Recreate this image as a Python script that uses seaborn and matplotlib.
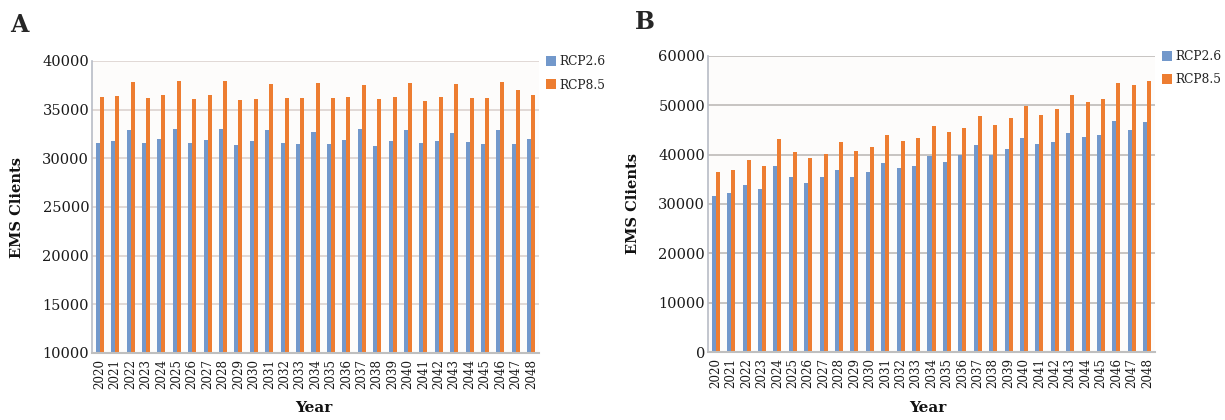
import matplotlib
matplotlib.use("Agg")
import matplotlib.pyplot as plt
import seaborn as sns
import pandas as pd

years = [str(y) for y in range(2020, 2049)]

a_rcp26 = [31570, 31780, 32930, 31600, 31940, 33060, 31530, 31880, 32970, 31330,
           31810, 32860, 31570, 31500, 32750, 31430, 31870, 33020, 31220, 31730,
           32920, 31530, 31730, 32650, 31630, 31490, 32920, 31430, 31940]
a_rcp85 = [36270, 36370, 37800, 36230, 36470, 37940, 36100, 36470, 37900, 35970,
           36100, 37650, 36200, 36150, 37790, 36150, 36330, 37580, 36080, 36330,
           37790, 35920, 36260, 37650, 36150, 36150, 37860, 37070, 36490]

b_rcp26 = [31620, 32170, 33850, 32980, 37770, 35400, 34320, 35540, 36830, 35540,
           36550, 38380, 37360, 37770, 39800, 38580, 39940, 41970, 39940, 41220,
           43450, 42170, 42510, 44330, 43650, 44000, 46770, 45090, 46650]
b_rcp85 = [36430, 36900, 38920, 37770, 43250, 40550, 39330, 40200, 42510, 40810,
           41560, 43930, 42780, 43420, 45900, 44540, 45350, 47790, 46090, 47500,
           49920, 48110, 49220, 52050, 50770, 51320, 54500, 54090, 54900]

series_names = ["RCP2.6", "RCP8.5"]
panel_labels = ["A", "B"]
y_label = "EMS Clients"
x_label = "Year"

colors = {"RCP2.6": "#7298CB", "RCP8.5": "#ED7D31"}

sns.set_theme(style="white")
plt.rcParams["font.family"] = ["DejaVu Serif"]

fig = plt.figure(figsize=(12.25, 4.2), dpi=100)
axA = fig.add_axes([92 / 1225, (420 - 353) / 420, 447 / 1225, 292 / 420])
axB = fig.add_axes([708 / 1225, (420 - 352) / 420, 447 / 1225, 296 / 420])


def make_df(v26, v85):
    return pd.DataFrame({
        "Year": years * 2,
        "Value": v26 + v85,
        "Scenario": [series_names[0]] * len(years) + [series_names[1]] * len(years),
    })


panels = [
    (axA, make_df(a_rcp26, a_rcp85), (10000, 40000), list(range(10000, 40001, 5000)), "#DED6D3"),
    (axB, make_df(b_rcp26, b_rcp85), (0, 60000), list(range(0, 60001, 10000)), "#C3C0BD"),
]

for ax, df, ylim, yticks, gcol in panels:
    sns.barplot(data=df, x="Year", y="Value", hue="Scenario", palette=colors,
                saturation=1, width=0.52, gap=0, ax=ax, errorbar=None, linewidth=0)
    ax.set_facecolor("#FDFCFB")
    ax.set_ylim(*ylim)
    ax.set_yticks(yticks)
    ax.set_xlim(-0.5, len(years) - 0.5)
    ax.yaxis.grid(True, color=gcol, linewidth=1.3, linestyle="-")
    ax.set_axisbelow(True)
    for s in ["top", "right"]:
        ax.spines[s].set_visible(False)
    ax.spines["left"].set_color("#B8BCC6")
    ax.spines["bottom"].set_color("#BFBFBF")
    ax.spines["left"].set_linewidth(1.2)
    ax.spines["bottom"].set_linewidth(1.5)
    ax.tick_params(axis="y", length=0, pad=2, labelsize=10.5, colors="#1a1a1a")
    ax.tick_params(axis="x", length=0, pad=4, labelsize=8.6, rotation=90, colors="#1a1a1a")
    ax.set_ylabel(y_label, fontsize=10.5, fontweight="bold", color="#111111")
    ax.set_xlabel(x_label, fontsize=11, fontweight="bold", color="#111111")
    ax.yaxis.set_label_coords(-0.152, 0.5)
    h, l = ax.get_legend_handles_labels()
    ax.legend(h, l, loc="upper left", bbox_to_anchor=(1.015, 1.02), frameon=False,
              borderpad=0, handlelength=0.85, handleheight=0.85, handletextpad=0.3,
              labelspacing=0.85, fontsize=8.8, borderaxespad=0)

axA.xaxis.set_label_coords(0.497, -0.165)
axB.xaxis.set_label_coords(0.492, -0.165)

fig.text(10 / 1225, 1 - 13 / 420, panel_labels[0], fontsize=17, fontweight="bold", va="top", ha="left")
fig.text(635 / 1225, 1 - 10 / 420, panel_labels[1], fontsize=17, fontweight="bold", va="top", ha="left")

fig.savefig("out.png", dpi=100)
